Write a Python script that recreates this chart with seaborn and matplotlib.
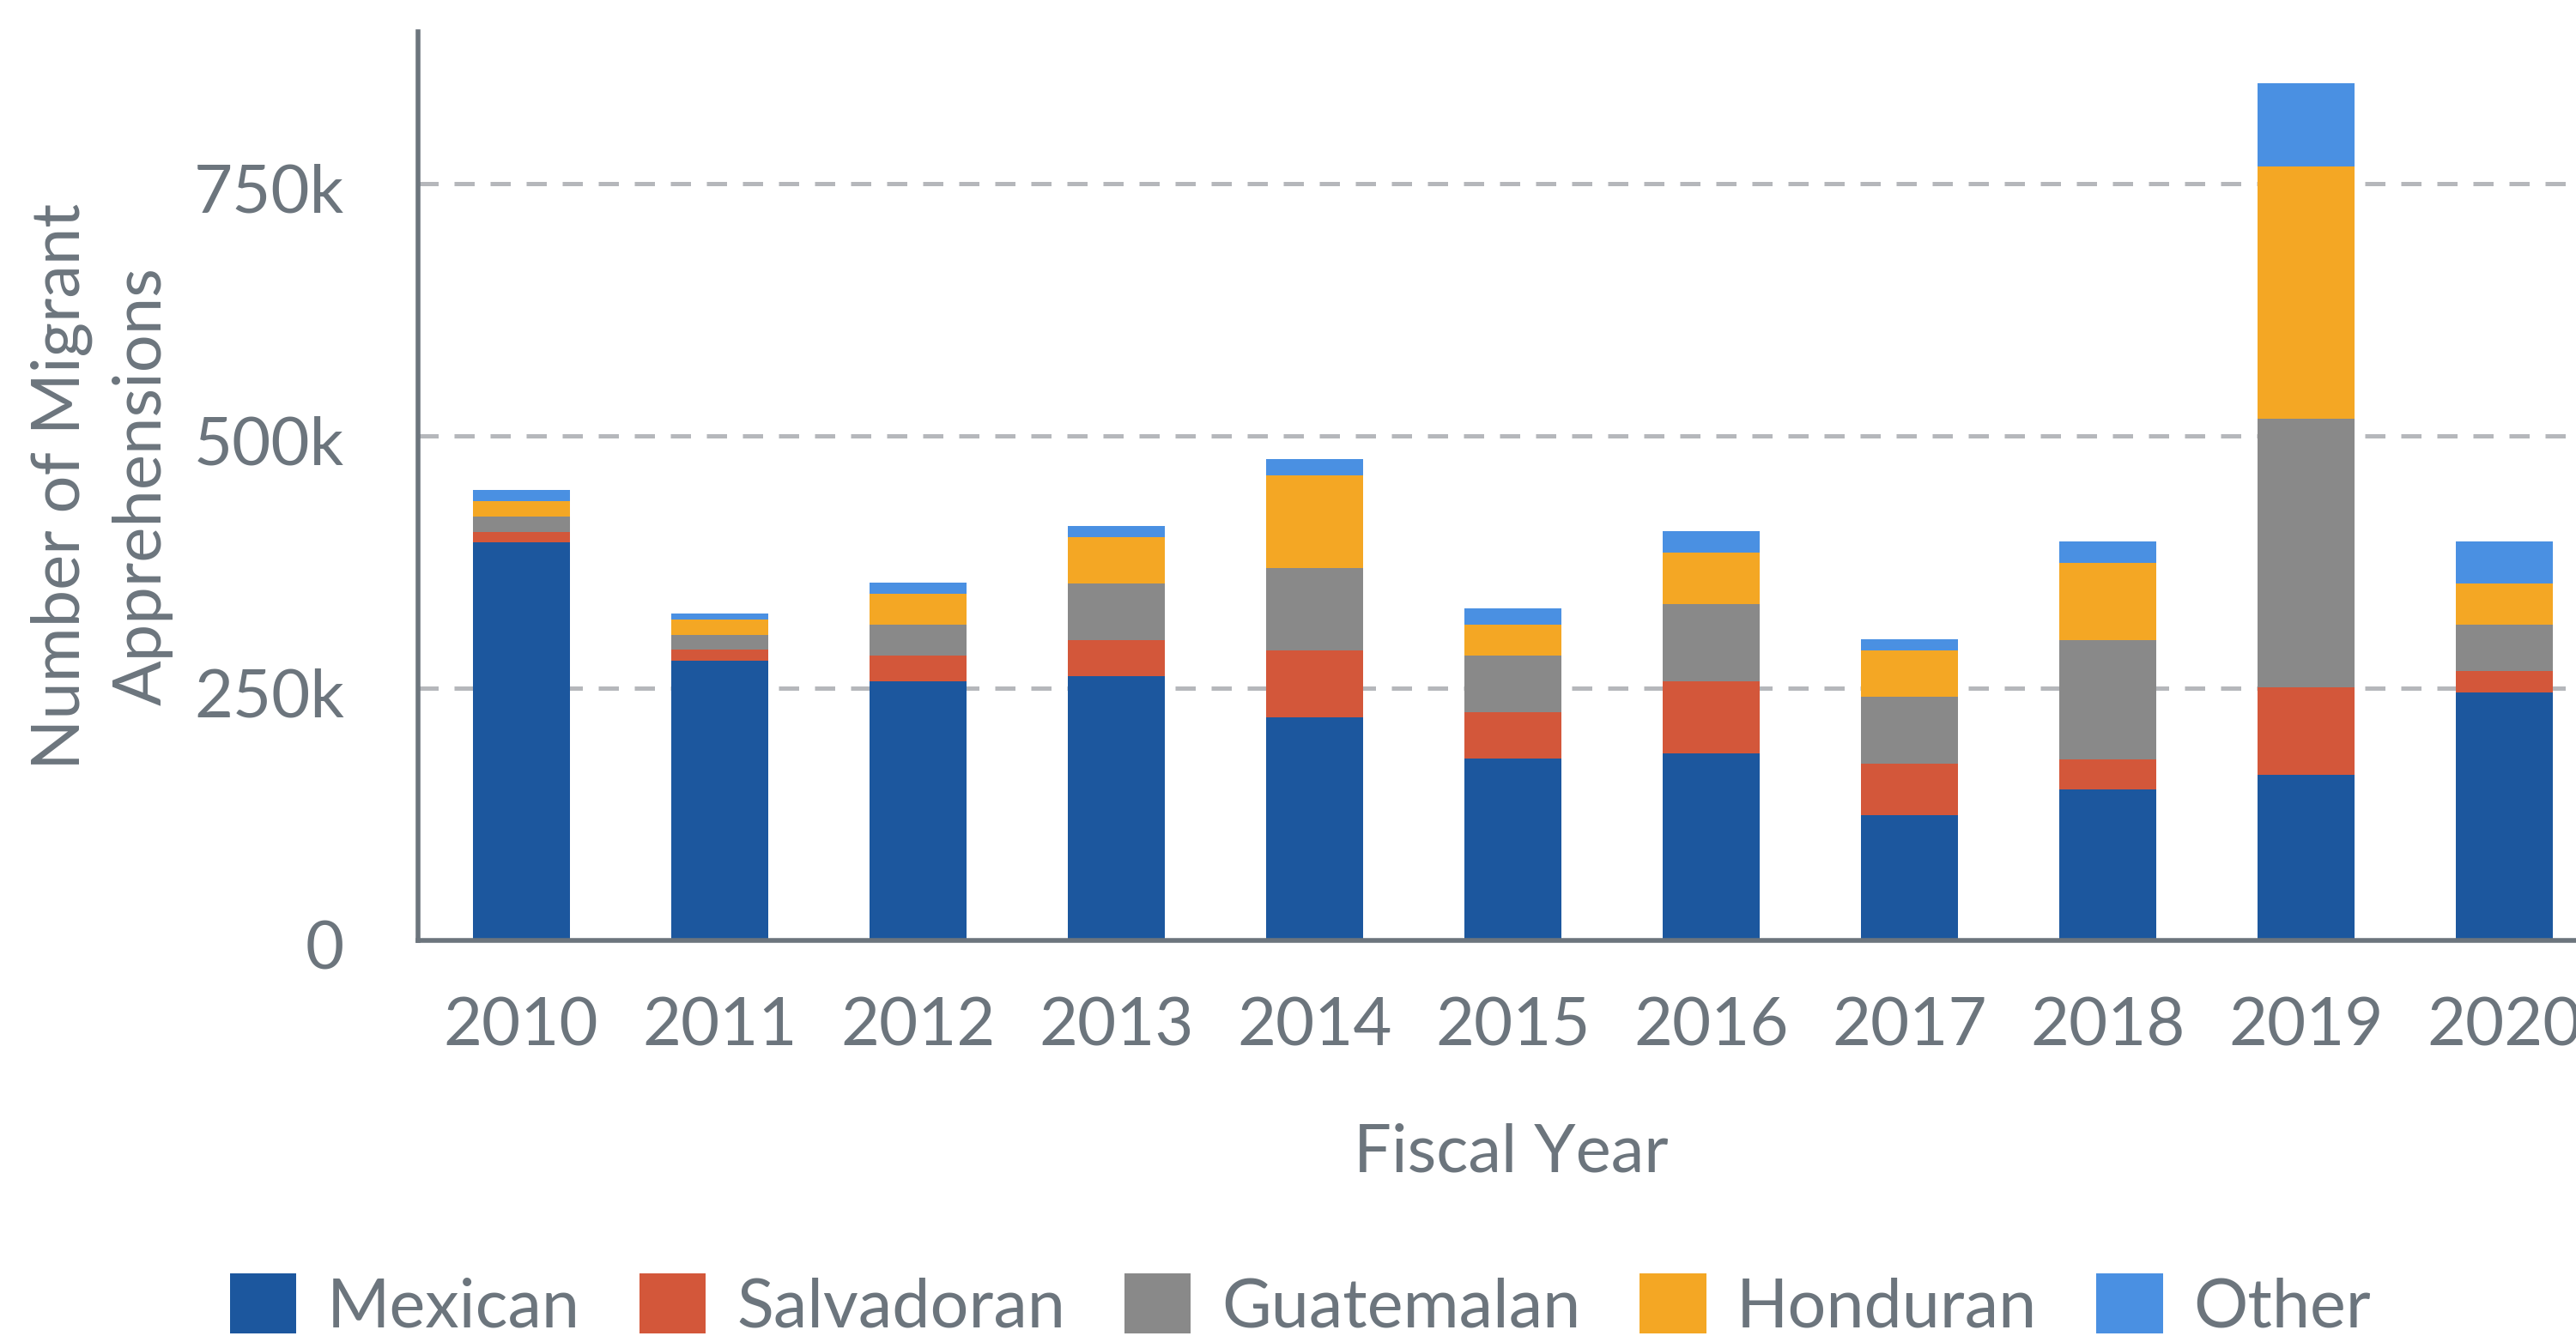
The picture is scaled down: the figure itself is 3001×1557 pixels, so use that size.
import pandas as pd
import seaborn as sns
import matplotlib.pyplot as plt
from matplotlib.patches import Patch
from matplotlib.transforms import ScaledTranslation

# values in thousands
years = ['2010', '2011', '2012', '2013', '2014', '2015', '2016', '2017', '2018', '2019', '2020']
mexican = [394.3, 276.9, 256.4, 261.8, 220.7, 180.0, 185.1, 123.8, 149.4, 164.4, 246.0]
salvadoran = [10.5, 10.8, 25.9, 36.0, 66.6, 45.8, 71.3, 51.2, 29.9, 86.7, 20.7]
guatemalan = [15.1, 14.8, 30.3, 55.8, 81.5, 56.2, 76.7, 66.3, 117.8, 265.6, 45.9]
honduran = [15.5, 15.5, 30.6, 45.8, 91.8, 30.6, 51.2, 46.0, 76.5, 250.0, 40.8]
other = [10.8, 5.7, 11.1, 11.1, 16.2, 16.1, 21.1, 10.8, 21.2, 82.2, 41.4]

groups = ['Mexican', 'Salvadoran', 'Guatemalan', 'Honduran', 'Other']
colors = ['#1c579e', '#d3573a', '#898989', '#f4a724', '#4a90e2']
y_ticks = [0, 250000, 500000, 750000]
y_tick_labels = ['0', '250k', '500k', '750k']

TEXT = '#6c757d'
GRID = '#b5b7bb'
FS = 56

sns.set_style('white')
plt.rcParams['font.family'] = ['Lato', 'DejaVu Sans']

df = pd.DataFrame({'Mexican': mexican, 'Salvadoran': salvadoran, 'Guatemalan': guatemalan,
                   'Honduran': honduran, 'Other': other}, index=years) * 1000
stacked = df.cumsum(axis=1)

fig = plt.figure(figsize=(30.01, 15.57), dpi=100)
W, H = 3001, 1557
ax = fig.add_axes([487 / W, 1 - 1096 / H, (3033 - 487) / W, (1096 - 37) / H])

# draw the cumulative totals from the top down so each layer covers the one above
for name, col in reversed(list(zip(groups, colors))):
    sns.barplot(x=years, y=stacked[name].values, color=col, saturation=1, width=0.49,
                errorbar=None, linewidth=0, ax=ax)

ax.set_xlim(-0.52, 10.5)
ax.set_ylim(0, 900000)
ax.set_yticks(y_ticks)
ax.set_yticklabels(y_tick_labels)

ax.set_axisbelow(True)
ax.yaxis.grid(True, color=GRID, linewidth=3.6, linestyle=(0, (4.7, 3.7)))
ax.xaxis.grid(False)

for s in ['top', 'right']:
    ax.spines[s].set_visible(False)
for s in ['left', 'bottom']:
    ax.spines[s].set_color(TEXT)
    ax.spines[s].set_linewidth(4)

ax.tick_params(axis='x', length=0, pad=47, labelsize=FS, labelcolor=TEXT)
ax.tick_params(axis='y', length=0, pad=62, labelsize=FS, labelcolor=TEXT)

# y tick labels sit a little below their gridlines in the reference
shift = ScaledTranslation(0, -0.05, fig.dpi_scale_trans)
for lab in ax.get_yticklabels():
    lab.set_transform(lab.get_transform() + shift)

ax.set_xlabel('Fiscal Year', fontsize=FS, color=TEXT, labelpad=55)
ax.set_ylabel('Number of Migrant\nApprehensions', fontsize=FS, color=TEXT, linespacing=1.4)
ax.yaxis.set_label_coords(-0.112, 0.5)

handles = [Patch(facecolor=c, edgecolor='none', label=g) for g, c in zip(groups, colors)]
fig.legend(handles=handles, loc='center', bbox_to_anchor=(0.5048, 0.0225), ncol=5,
           frameon=False, fontsize=57, labelcolor=TEXT, handlelength=0.98, handleheight=0.98,
           handletextpad=0.45, columnspacing=0.87, borderpad=0, borderaxespad=0)

fig.savefig('out.png', dpi=100)
